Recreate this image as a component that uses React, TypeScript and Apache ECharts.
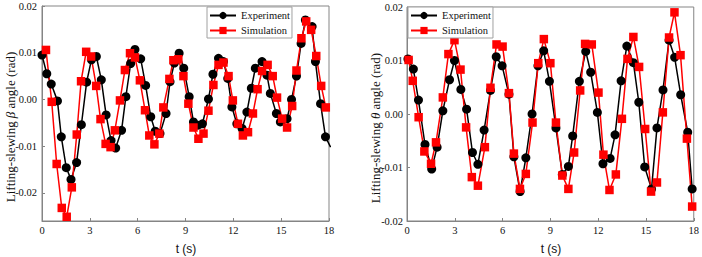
import React, { useEffect, useRef } from "react";
import * as echarts from "echarts";

// Lifting-slewing beta angle (rad) — experiment
const betaExpT = [0, 0.3, 0.58, 0.97, 1.21, 1.52, 1.82, 2.17, 2.47, 2.8, 3.1, 3.41, 3.72, 4.02, 4.33, 4.62, 4.99, 5.26, 5.56, 5.83, 6.19, 6.5, 6.82, 7.1, 7.4, 7.78, 8.03, 8.3, 8.6, 8.89, 9.23, 9.5, 9.78, 10.06, 10.44, 10.72, 11.07, 11.38, 11.65, 11.91, 12.22, 12.55, 12.85, 13.13, 13.38, 13.8, 14.11, 14.32, 14.7, 14.95, 15.37, 15.65, 15.96, 16.25, 16.52, 16.94, 17.15, 17.47, 17.78, 18.1];
const betaExpV = [0.0095, 0.0055, 0.0033, -0.0003, -0.008, -0.0146, -0.0171, -0.0135, -0.0054, 0.0037, 0.0085, 0.0092, 0.0042, -0.0033, -0.0088, -0.0104, -0.0066, 0.0006, 0.0077, 0.0107, 0.0087, 0.003, -0.0037, -0.0068, -0.0073, -0.003, 0.0038, 0.0078, 0.0099, 0.0067, 0.0006, -0.0048, -0.0055, -0.0052, 0.0001, 0.0054, 0.0088, 0.0081, 0.0045, -0.0016, -0.0052, -0.0062, -0.0027, 0.0024, 0.0067, 0.0081, 0.0052, 0.0013, -0.003, -0.0048, -0.0041, 0.0, 0.005, 0.012, 0.017, 0.0156, 0.0081, -0.0009, -0.008, -0.0102];

// Lifting-slewing beta angle (rad) — simulation
const betaSimT = [0.25, 0.61, 0.92, 1.24, 1.55, 1.87, 2.18, 2.45, 2.77, 3.08, 3.4, 3.67, 3.99, 4.3, 4.57, 4.89, 5.2, 5.52, 5.83, 6.14, 6.46, 6.73, 7.05, 7.36, 7.61, 7.99, 8.24, 8.55, 8.87, 9.18, 9.5, 9.81, 10.13, 10.44, 10.75, 11.07, 11.38, 11.7, 11.97, 12.29, 12.6, 12.92, 13.23, 13.52, 13.8, 14.15, 14.47, 14.74, 15.06, 15.37, 15.69, 15.96, 16.27, 16.57, 16.88, 17.2, 17.51, 17.8];
const betaSimV = [0.0106, -0.0005, -0.0138, -0.0232, -0.0251, -0.0188, -0.0075, 0.0039, 0.0102, 0.0092, 0.0029, -0.0042, -0.0095, -0.0102, -0.0066, -0.0002, 0.0063, 0.0099, 0.009, 0.0041, -0.0023, -0.0077, -0.0096, -0.0073, -0.0017, 0.0044, 0.0084, 0.0086, 0.005, -0.0009, -0.006, -0.0084, -0.0073, -0.0024, 0.0031, 0.0074, 0.0079, 0.005, -0.0002, -0.0052, -0.0077, -0.007, -0.003, 0.0022, 0.0061, 0.0074, 0.005, 0.0004, -0.0041, -0.006, -0.0014, 0.0062, 0.0131, 0.0167, 0.0149, 0.0093, 0.0029, -0.0017];

// Lifting-slewing theta angle (rad) — experiment
const thetaExpT = [0.06, 0.4, 0.72, 1.13, 1.55, 1.89, 2.25, 2.67, 2.98, 3.38, 3.74, 4.11, 4.45, 4.84, 5.24, 5.6, 5.97, 6.4, 6.71, 7.1, 7.46, 7.85, 8.22, 8.58, 8.94, 9.35, 9.75, 10.13, 10.4, 10.82, 11.22, 11.53, 11.95, 12.3, 12.75, 13.06, 13.44, 13.8, 14.21, 14.55, 14.92, 15.35, 15.69, 16.07, 16.45, 16.8, 17.18, 17.62, 17.9];
const thetaExpV = [0.0103, 0.0084, 0.0026, -0.0057, -0.0103, -0.0062, 0.0006, 0.0064, 0.01, 0.0046, 0.0009, -0.0072, -0.0094, -0.003, 0.0044, 0.0107, 0.009, 0.0037, -0.008, -0.0145, -0.0082, 0.0, 0.009, 0.0118, 0.0061, -0.0026, -0.0113, -0.0098, -0.0041, 0.0061, 0.0117, 0.0078, 0.0003, -0.0093, -0.0083, -0.0039, 0.0062, 0.0127, 0.0096, 0.0022, -0.0099, -0.014, -0.0026, 0.0045, 0.0138, 0.0106, 0.0036, -0.0034, -0.014];

// Lifting-slewing theta angle (rad) — simulation
const thetaSimT = [0.1, 0.36, 0.73, 1.09, 1.51, 1.82, 2.25, 2.6, 2.98, 3.36, 3.71, 4.07, 4.45, 4.89, 5.24, 5.62, 6.0, 6.4, 6.71, 7.09, 7.46, 7.88, 8.24, 8.59, 9.0, 9.35, 9.75, 10.13, 10.49, 10.87, 11.18, 11.6, 12.02, 12.33, 12.71, 13.11, 13.49, 13.84, 14.21, 14.57, 14.95, 15.32, 15.69, 16.06, 16.45, 16.79, 17.17, 17.57, 17.9];
const thetaSimV = [0.0101, 0.0062, -0.0006, -0.007, -0.0093, -0.0053, 0.0031, 0.0112, 0.0138, 0.0083, -0.0025, -0.0118, -0.0134, -0.0062, 0.0049, 0.013, 0.0126, 0.0039, -0.0074, -0.014, -0.0112, -0.0016, 0.0095, 0.014, 0.0095, -0.0016, -0.0115, -0.014, -0.0072, 0.0044, 0.0131, 0.013, 0.004, -0.0076, -0.0142, -0.0113, -0.0009, 0.0103, 0.0144, 0.0088, -0.0028, -0.0145, -0.0128, 0.0003, 0.0143, 0.019, 0.011, -0.0046, -0.0173];

const seriesNames = ["Experiment", "Simulation"];
const timeTicks = [0, 3, 6, 9, 12, 15, 18];
const angleTicks = [-0.02, -0.01, 0, 0.01, 0.02];

const FONT = '"Liberation Serif", "Times New Roman", serif';
const FRAME = "#858585";
const EXP_COLOR = "#000000";
const SIM_COLOR = "#ff0000";

const pairs = (t: number[], v: number[]) => t.map((x, i) => [x, v[i]]);

function xAxisFor(gridIndex: number) {
  return {
    type: "value",
    gridIndex,
    min: timeTicks[0],
    max: timeTicks[timeTicks.length - 1],
    interval: 3,
    axisLine: { show: true, onZero: false, lineStyle: { color: FRAME, width: 1 } },
    axisTick: { show: true, inside: true, length: 3, lineStyle: { color: FRAME } },
    axisLabel: { margin: 4, fontFamily: FONT, fontSize: 10.5, color: "#111" },
    splitLine: { show: false },
  };
}

function yAxisFor(gridIndex: number, min: number, max: number, margin: number) {
  return {
    type: "value",
    gridIndex,
    min,
    max,
    axisLine: { show: true, onZero: false, lineStyle: { color: FRAME, width: 1 } },
    axisTick: { show: true, inside: true, length: 3, lineStyle: { color: FRAME }, customValues: angleTicks },
    axisLabel: {
      margin,
      fontFamily: FONT,
      fontSize: 10.5,
      color: "#111",
      customValues: angleTicks,
      formatter: (v: number) => v.toFixed(2),
    },
    splitLine: { show: false },
  };
}

function lineSeries(name: string, data: number[][], axis: number, color: string, symbol: string, size: number) {
  return {
    name,
    type: "line",
    xAxisIndex: axis,
    yAxisIndex: axis,
    data,
    symbol,
    symbolSize: size,
    clip: true,
    lineStyle: { color, width: 1.5 },
    itemStyle: { color, borderWidth: 0 },
  };
}

function legendAt(left: number) {
  return {
    left,
    top: 7,
    orient: "vertical",
    data: seriesNames,
    itemWidth: 26,
    itemHeight: 9,
    itemGap: 4,
    padding: [3, 2, 2, 2],
    borderColor: "#a0a0a0",
    borderWidth: 1,
    backgroundColor: "#fff",
    textStyle: { fontFamily: FONT, fontSize: 10.5, color: "#111" },
  };
}

function yTitle(x: number, y: number, symbol: string) {
  return {
    type: "text",
    x,
    y,
    rotation: Math.PI / 2,
    style: {
      text: `{a|Lifting-slewing }{b|${symbol}}{a| angle (rad)}`,
      align: "center",
      verticalAlign: "middle",
      rich: {
        a: { fontFamily: FONT, fontSize: 13, fontWeight: "normal", fill: "#111" },
        b: { fontFamily: FONT, fontSize: 13, fontWeight: "normal", fontStyle: "italic", fill: "#111" },
      },
    },
  };
}

function xTitle(x: number, y: number) {
  return {
    type: "text",
    x,
    y,
    style: {
      text: "t (s)",
      align: "center",
      verticalAlign: "middle",
      font: '12px "Liberation Serif", "Times New Roman", serif',
      fontWeight: "normal",
      fill: "#111",
    },
  };
}

export default function App() {
  const ref = useRef<HTMLDivElement>(null);

  useEffect(() => {
    if (!ref.current) return;
    const chart = echarts.init(ref.current, undefined, { renderer: "svg" });
    chart.setOption({
      animation: false,
      backgroundColor: "#ffffff",
      grid: [
        { left: 42, top: 6, width: 287, height: 215, show: true, borderColor: FRAME, borderWidth: 1 },
        { left: 407, top: 7, width: 287, height: 214, show: true, borderColor: FRAME, borderWidth: 1 },
      ],
      xAxis: [xAxisFor(0), xAxisFor(1)],
      yAxis: [yAxisFor(0, -0.026, 0.02, 5), yAxisFor(1, -0.02, 0.02, 4)],
      legend: [legendAt(207), legendAt(408)],
      series: [
        lineSeries(seriesNames[0], pairs(betaExpT, betaExpV), 0, EXP_COLOR, "circle", 9),
        lineSeries(seriesNames[1], pairs(betaSimT, betaSimV), 0, SIM_COLOR, "rect", 8.5),
        lineSeries(seriesNames[0], pairs(thetaExpT, thetaExpV), 1, EXP_COLOR, "circle", 9),
        lineSeries(seriesNames[1], pairs(thetaSimT, thetaSimV), 1, SIM_COLOR, "rect", 8.5),
      ],
      graphic: [
        yTitle(10, 127, "β"),
        yTitle(375, 128, "θ"),
        xTitle(186, 249),
        xTitle(551, 249),
      ],
    });
    return () => chart.dispose();
  }, []);

  return (
    <div
      ref={ref}
      style={{ position: "fixed", left: 0, top: 0, width: 702, height: 257, background: "#fff" }}
    />
  );
}
